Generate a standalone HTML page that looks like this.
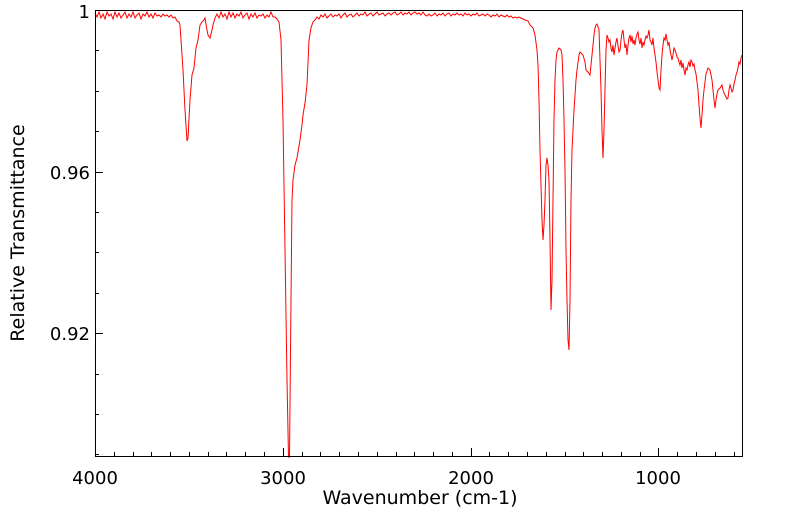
<!DOCTYPE html>
<html><head><meta charset="utf-8"><style>
html,body{margin:0;padding:0;background:#fff;}
svg{display:block;font-family:"DejaVu Sans","Liberation Sans",sans-serif;}
</style></head><body>
<svg width="799" height="516" viewBox="0 0 799 516" xmlns="http://www.w3.org/2000/svg">
<rect x="0" y="0" width="799" height="516" fill="#fff"/>
<g stroke="#000" stroke-width="1">
<line x1="95.5" y1="456" x2="95.5" y2="448"/><line x1="114.5" y1="456" x2="114.5" y2="452"/><line x1="133.5" y1="456" x2="133.5" y2="452"/><line x1="151.5" y1="456" x2="151.5" y2="452"/><line x1="170.5" y1="456" x2="170.5" y2="452"/><line x1="189.5" y1="456" x2="189.5" y2="452"/><line x1="208.5" y1="456" x2="208.5" y2="452"/><line x1="226.5" y1="456" x2="226.5" y2="452"/><line x1="245.5" y1="456" x2="245.5" y2="452"/><line x1="264.5" y1="456" x2="264.5" y2="452"/>
<line x1="283.5" y1="456" x2="283.5" y2="448"/><line x1="302.5" y1="456" x2="302.5" y2="452"/><line x1="320.5" y1="456" x2="320.5" y2="452"/><line x1="339.5" y1="456" x2="339.5" y2="452"/><line x1="358.5" y1="456" x2="358.5" y2="452"/><line x1="377.5" y1="456" x2="377.5" y2="452"/><line x1="396.5" y1="456" x2="396.5" y2="452"/><line x1="414.5" y1="456" x2="414.5" y2="452"/><line x1="433.5" y1="456" x2="433.5" y2="452"/><line x1="452.5" y1="456" x2="452.5" y2="452"/>
<line x1="471.5" y1="456" x2="471.5" y2="448"/><line x1="489.5" y1="456" x2="489.5" y2="452"/><line x1="508.5" y1="456" x2="508.5" y2="452"/><line x1="527.5" y1="456" x2="527.5" y2="452"/><line x1="546.5" y1="456" x2="546.5" y2="452"/><line x1="565.5" y1="456" x2="565.5" y2="452"/><line x1="583.5" y1="456" x2="583.5" y2="452"/><line x1="602.5" y1="456" x2="602.5" y2="452"/><line x1="621.5" y1="456" x2="621.5" y2="452"/><line x1="640.5" y1="456" x2="640.5" y2="452"/>
<line x1="658.5" y1="456" x2="658.5" y2="448"/><line x1="677.5" y1="456" x2="677.5" y2="452"/><line x1="696.5" y1="456" x2="696.5" y2="452"/><line x1="715.5" y1="456" x2="715.5" y2="452"/><line x1="734.5" y1="456" x2="734.5" y2="452"/>
<line x1="95" y1="10.5" x2="103" y2="10.5"/><line x1="95" y1="50.5" x2="99" y2="50.5"/><line x1="95" y1="91.5" x2="99" y2="91.5"/><line x1="95" y1="131.5" x2="99" y2="131.5"/><line x1="95" y1="172.5" x2="103" y2="172.5"/><line x1="95" y1="212.5" x2="99" y2="212.5"/><line x1="95" y1="252.5" x2="99" y2="252.5"/><line x1="95" y1="293.5" x2="99" y2="293.5"/><line x1="95" y1="333.5" x2="103" y2="333.5"/><line x1="95" y1="374.5" x2="99" y2="374.5"/><line x1="95" y1="414.5" x2="99" y2="414.5"/><line x1="95" y1="454.5" x2="99" y2="454.5"/>
</g>
<polyline fill="none" stroke="#ff0000" stroke-width="1" points="95,13 97,17 99,12 101,18 103,14 105,19 107,12 109,16 111,14 113,19 115,12 117,17 119,13 121,18 123,15 125,12 127,18 129,14 131,17 133,12 135,18 137,15 139,13 141,19 143,14 145,16 147,12 149,17 151,14 153,18 155,13 157,16 159,15 161,17 163,14 165,16 167,15 169,17 171,15 173,18 175,17 177,21 179,22 180,25 183,70 185,110 187,141 188,138 190,100 192,75 194,68 196,48 198,40 200,25 202,22 204,20 205,18 207,30 208,35 210,38 212,30 213,25 215,18 217,14 219,18 221,12 223,17 225,14 227,19 229,12 231,17 233,13 235,18 237,14 239,16 241,12 243,18 245,15 247,13 249,19 251,14 253,17 255,13 257,18 259,15 261,16 263,14 265,18 267,15 269,17 271,12 273,17 275,17 277,19 279,22 281,40 283,120 285,250 287,380 288.5,457 289.5,457 291,300 292,200 293,180 295,165 297,158 300,140 302,125 303,115 305,103 307,85 309,40 311,28 313,22 315,20 317,17 319,19 321,15 323,17 325,14 327,18 329,16 331,14 333,17 335,15 337,16 339,14 341,18 343,15 345,13 347,17 349,15 351,14 353,17 355,15 357,13 359,16 361,14 363,15 365,12 367,16 369,14 371,13 373,16 375,14 377,12 379,15 381,14 383,13 385,16 387,14 389,13 391,15 393,13 395,12 397,15 399,14 401,12 403,15 405,13 407,14 409,12 411,15 413,13 415,12 417,14 419,13 421,15 423,12 425,15 427,16 429,14 431,16 433,15 435,13 437,16 439,14 441,15 443,13 445,16 447,14 449,13 451,16 453,14 455,15 457,13 459,15 461,14 463,16 465,13 467,15 469,14 471,16 473,14 475,15 477,13 479,16 481,15 483,14 485,16 487,14 489,15 491,17 493,15 495,16 497,14 499,17 501,15 503,16 505,17 507,15 509,17 511,16 513,18 515,17 517,18 519,17 521,18 523,19 525,20 528,21 530,25 533,28 535,35 537,50 538,65 539,100 540,150 542,220 543,240 544,225 545,200 546,165 547,158 548,165 549,180 550,240 551,310 552,280 553,200 554,120 555,80 556,60 557,52 559,48 561,50 562,55 563,80 564,120 565,170 566,250 567,300 568,340 569,350 570,300 571,200 572,150 574,110 576,80 577,70 579,55 580,52 582,54 583,55 585,62 586,70 588,72 590,75 591,65 592,55 593,45 594,35 595,28 596,25 597,24 599,30 600,60 601,90 602,130 603,158 604,130 605,90 606,50 607,35 608,38 609,42 610,40 611,48 612,52 613,45 614,55 615,48 616,42 617,38 618,46 619,52 620,50 621,40 622,33 623,30 624,40 625,48 626,44 627,55 628,45 629,38 630,35 631,42 632,36 633,44 634,40 635,45 636,38 637,34 638,32 639,40 640,44 641,38 642,48 643,42 644,45 645,40 646,36 647,38 648,35 649,30 650,40 651,42 652,45 653,38 654,48 655,55 656,62 657,72 658,80 659,88 660,90 661,70 662,55 663,45 664,38 665,40 666,34 667,40 668,45 669,42 670,50 671,55 672,60 673,55 674,48 675,50 676,53 677,57 678,58 679,62 680,65 681,60 682,68 683,63 684,70 685,75 686,68 687,70 688,65 689,62 690,67 691,60 692,62 693,66 694,64 695,70 696,74 697,82 698,90 699,105 700,118 701,128 702,115 703,100 704,90 705,82 706,74 708,68 710,70 712,80 713,90 714,100 715,108 716,100 717,94 718,90 720,88 722,85 723,90 724,93 725,95 726,97 727,99 728,98 729,90 730,85 731,88 732,92 733,90 734,84 735,80 736,75 737,72 738,68 739,62 740,64 741,58 742,55"/>
<rect x="95.5" y="10.5" width="647" height="446" fill="none" stroke="#000" stroke-width="1"/>
<g font-size="18" fill="#000">
<text x="90" y="18" text-anchor="end">1</text>
<text x="90" y="179" text-anchor="end">0.96</text>
<text x="90" y="340" text-anchor="end">0.92</text>
<text x="95" y="484" text-anchor="middle">4000</text>
<text x="283" y="484" text-anchor="middle">3000</text>
<text x="471" y="484" text-anchor="middle">2000</text>
<text x="658" y="484" text-anchor="middle">1000</text>
<text x="420" y="504" text-anchor="middle" font-size="19">Wavenumber (cm-1)</text>
<text transform="translate(24,233) rotate(-90)" text-anchor="middle" font-size="19">Relative Transmittance</text>
</g>
</svg>
</body></html>
